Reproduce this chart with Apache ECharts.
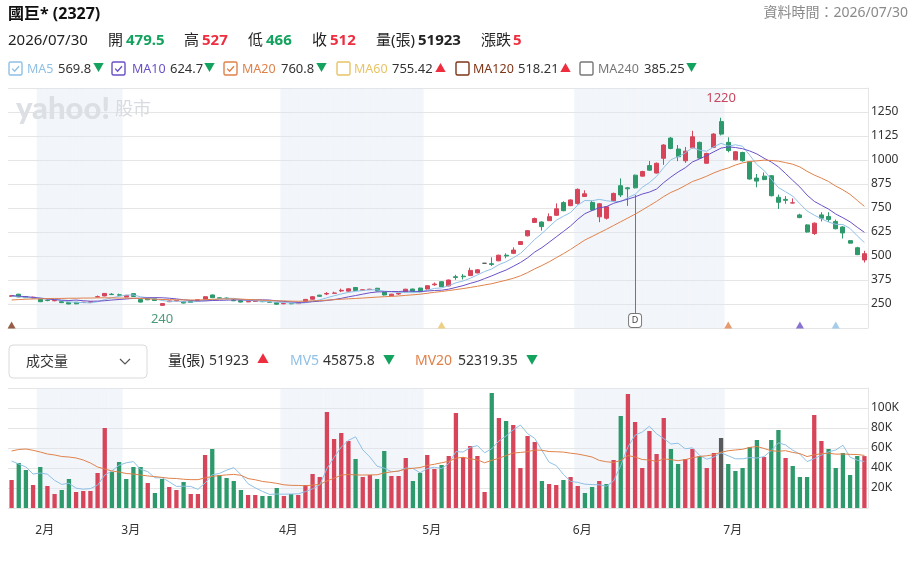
<!DOCTYPE html>
<html>
<head>
<meta charset="utf-8">
<title>國巨* (2327)</title>
<script src="https://cdn.jsdelivr.net/npm/echarts@6/dist/echarts.min.js"></script>
<style>
html, body { margin: 0; padding: 0; background: #fff; }
#chart { width: 918px; height: 570px; }
</style>
</head>
<body>
<div id="chart"></div>
<script>
// trading days (MM/DD, 2026)
var dates = [
	'01/27','01/28','01/29','01/30',
	'02/02','02/03','02/04','02/05','02/06','02/09','02/10','02/11','02/23','02/24','02/25','02/26',
	'03/02','03/03','03/04','03/05','03/06','03/09','03/10','03/11','03/12','03/13','03/16','03/17','03/18','03/19','03/20','03/23','03/24','03/25','03/26','03/27','03/30','03/31',
	'04/01','04/02','04/07','04/08','04/09','04/10','04/13','04/14','04/15','04/16','04/17','04/20','04/21','04/22','04/23','04/24','04/27','04/28','04/29','04/30',
	'05/01','05/04','05/05','05/06','05/07','05/08','05/11','05/12','05/13','05/14','05/15','05/18','05/19','05/20','05/21','05/22','05/25','05/26','05/27','05/28','05/29',
	'06/01','06/02','06/03','06/04','06/05','06/08','06/09','06/10','06/11','06/12','06/15','06/16','06/17','06/18','06/22','06/23','06/24','06/25','06/26','06/29','06/30',
	'07/01','07/02','07/03','07/06','07/07','07/08','07/13','07/14','07/15','07/16','07/17','07/20','07/21','07/22','07/23','07/24','07/27','07/28','07/29','07/30'
];
var opens = [
	290, 301, 289, 281, 274, 270, 267, 262, 257, 259,
	258, 259, 287, 292, 301, 298, 286, 304, 273, 279,
	277, 243, 262, 266, 262, 264, 268, 275, 297, 282,
	281, 270, 267, 261, 263, 264, 261, 257, 251, 253,
	252, 264, 275, 296, 302, 306, 318, 317, 336, 322,
	325, 332, 312, 293, 302, 313, 328, 333, 328, 350,
	366, 344, 392, 395, 398, 412, 462, 460, 475, 504,
	514, 560, 605, 675, 677, 684, 712, 778, 762, 774,
	810, 779, 704, 697, 788, 866, 855, 921, 916, 971,
	932, 1009, 1114, 1057, 996, 1064, 1092, 983, 1066, 1200,
	1092, 1001, 1039, 991, 906, 916, 918, 806, 795, 776,
	714, 662, 617, 714, 706, 680, 651, 580, 543, 479.5
];
var closes = [
	293, 287, 283, 285, 262, 268, 269, 257, 250, 251,
	259, 261, 288, 305, 299, 296, 295, 289, 260, 272,
	268, 252, 266, 268, 255, 258, 272, 288, 283, 280,
	278, 267, 260, 263, 265, 262, 259, 249, 253, 251,
	255, 274, 288, 290, 305, 307, 321, 329, 320, 324,
	327, 318, 297, 301, 305, 327, 316, 314, 345, 354,
	340, 375, 388, 392, 425, 428, 462, 456, 504, 500,
	531, 575, 632, 695, 653, 705, 746, 736, 792, 847,
	824, 740, 772, 756, 826, 818, 850, 855, 940, 947,
	983, 1078, 1060, 1017, 1046, 1121, 1010, 1034, 1135, 1135,
	1049, 1043, 996, 901, 890, 898, 814, 780, 790, 777,
	700, 625, 671, 697, 690, 642, 620, 567, 507, 512
];
var lows = [
	287, 285, 281, 279, 260, 264, 264, 255, 249, 249,
	255, 257, 284, 290, 297, 294, 284, 287, 258, 270,
	266, 240, 260, 264, 253, 256, 266, 274, 281, 278,
	274, 265, 258, 260, 262, 260, 257, 247, 249, 249,
	250, 262, 273, 288, 296, 304, 312, 315, 318, 320,
	323, 316, 295, 291, 298, 311, 314, 312, 326, 345,
	338, 342, 376, 378, 396, 410, 460, 448, 473, 488,
	510, 558, 602, 672, 632, 682, 710, 733, 760, 768,
	808, 734, 676, 690, 785, 807, 761, 852, 914, 944,
	930, 975, 1056, 994, 985, 1060, 1006, 980, 1062, 1128,
	1040, 998, 992, 898, 858, 895, 810, 745, 772, 774,
	697, 622, 610, 680, 678, 639, 591, 565, 505, 466
];
var highs = [
	297, 303, 291, 288, 276, 275, 271, 264, 259, 261,
	261, 263, 294, 307, 307, 304, 297, 306, 275, 281,
	279, 255, 268, 270, 264, 266, 274, 290, 299, 284,
	285, 276, 268, 265, 267, 266, 263, 259, 255, 255,
	257, 276, 290, 298, 312, 314, 330, 331, 338, 326,
	329, 334, 314, 303, 311, 329, 330, 335, 347, 362,
	368, 377, 402, 406, 439, 431, 464, 493, 507, 514,
	545, 578, 634, 700, 680, 722, 774, 785, 795, 852,
	842, 788, 776, 760, 830, 904, 860, 924, 944, 995,
	987, 1082, 1120, 1078, 1068, 1152, 1096, 1038, 1140, 1220,
	1118, 1047, 1043, 994, 927, 935, 921, 820, 812, 800,
	720, 665, 675, 728, 728, 690, 655, 583, 548, 527
];
// 成交量 (張)
var volumes = [
	28000, 45000, 38000, 23000, 41000, 22000, 14000, 18000, 29000, 16000,
	17000, 17000, 35000, 80000, 36000, 46000, 29000, 41000, 41000, 25000,
	15000, 29000, 21000, 18000, 26000, 14000, 14000, 53000, 59000, 33000,
	30000, 27000, 18000, 13000, 13000, 12000, 12000, 20000, 12000, 14000,
	13000, 23000, 34000, 31000, 96000, 69000, 75000, 67000, 49000, 31000,
	33000, 29000, 57000, 32000, 32000, 50000, 27000, 35000, 53000, 39000,
	43000, 52000, 95000, 51000, 62000, 52000, 16000, 115000, 90000, 87000,
	83000, 40000, 72000, 66000, 27000, 24000, 23000, 28000, 31000, 22000,
	15000, 21000, 27000, 24000, 48000, 92000, 114000, 86000, 40000, 77000,
	54000, 90000, 59000, 44000, 49000, 59000, 52000, 40000, 55000, 70000,
	44000, 37000, 40000, 61000, 68000, 51000, 68000, 78000, 50000, 42000,
	31000, 31000, 93000, 67000, 59000, 40000, 55000, 33000, 52000, 51923
];
// averages before a full window exists
var ma5Head = [290, 288, 284, 281];
var ma10Head = [294, 291, 288, 285, 280, 276, 273, 270, 268];
var ma20Head = [271, 273, 275, 276, 277, 278, 279, 279, 280, 280, 281, 281, 282, 282, 282, 281, 281, 280, 279];
var mv5Head = [47000, 44000, 41000, 34000];
var mv20Head = [57000, 58500, 59000, 57700, 56000, 54000, 53000, 51500, 51000, 50000, 48000, 45000, 41000, 39000, 37000, 36000, 34500, 34000, 33000];

var priceTicks = [125, 1375, 125];     // min, max, interval
var volTicks = [0, 120000, 20000];
var dividendIdx = 87;                  // "D" mark
var maMarkIdx = [0, 60, 100, 110, 115];
var maMarkKey = ['MA120', 'MA60', 'MA20', 'MA10', 'MA5'];

var FONT = '"Noto Sans", "Noto Sans CJK TC", sans-serif';
var UP = '#d6455a', DOWN = '#2e9a6c', FLAT = '#5a5a5a';
var TXT_UP = '#ee2d3f', TXT_DOWN = '#14a35f';
var MA_COLOR = {
	MA5: '#8fc0e6', MA10: '#6a50c8', MA20: '#e0814a',
	MA60: '#e8c466', MA120: '#7e3518', MA240: '#777777'
};

function movingAvg(src, n, head){
	return src.map(function(v, i){
		if(i < n - 1) return head[i];
		var s = 0;
		for(var k = i - n + 1; k <= i; k++) s += src[k];
		return +(s / n).toFixed(2);
	});
}

var ma5 = movingAvg(closes, 5, ma5Head);
var ma10 = movingAvg(closes, 10, ma10Head);
var ma20 = movingAvg(closes, 20, ma20Head);
var mv5 = movingAvg(volumes, 5, mv5Head);
var mv20 = movingAvg(volumes, 20, mv20Head);

var candles = dates.map(function(d, i){
	return [opens[i], closes[i], lows[i], highs[i]];
});
var volBars = volumes.map(function(v, i){
	var prev = i > 0 ? closes[i - 1] : opens[i];
	var c = closes[i] > prev ? UP : (closes[i] < prev ? DOWN : FLAT);
	return { value: v, itemStyle: { color: c } };
});
function monthOf(d){ return parseInt(d.slice(0, 2), 10); }
// even months are shaded
var bands = dates.map(function(d){ return monthOf(d) % 2 === 0 ? 1 : '-'; });
var maMarks = maMarkIdx.map(function(idx, k){
	return { value: [idx, 141], itemStyle: { color: MA_COLOR[maMarkKey[k]] } };
});

/* ---------- header texts ---------- */
function txt(x, y, s, color, size, weight, align){
	return {
		type: 'text', x: x, y: y, z: 10,
		style: {
			text: s, fill: color, fontSize: size, fontWeight: weight || 'normal',
			fontFamily: FONT, verticalAlign: 'middle', align: align || 'left'
		}
	};
}
function checkBox(x, y, color, checked){
	var els = [{
		type: 'rect', z: 10,
		shape: { x: x, y: y, width: 13, height: 13, r: 1.5 },
		style: { fill: '#fff', stroke: color, lineWidth: 1.4 }
	}];
	if(checked){
		els.push({
			type: 'polyline', z: 10,
			shape: { points: [[x + 3.2, y + 6.6], [x + 5.6, y + 9.2], [x + 10, y + 4.2]] },
			style: { fill: null, stroke: color, lineWidth: 1.4 }
		});
	}
	return els;
}

var header = [
	txt(8, 14, '國巨* (2327)', '#111', 16, 'bold'),
	txt(908, 13, '資料時間：2026/07/30', '#8a8a8a', 14, 'normal', 'right'),
	txt(8, 41, '2026/07/30', '#222', 15),
	txt(108, 41, '開', '#222', 15), txt(126, 41, '479.5', TXT_DOWN, 15, 'bold'),
	txt(184, 41, '高', '#222', 15), txt(202, 41, '527', TXT_UP, 15, 'bold'),
	txt(248, 41, '低', '#222', 15), txt(266, 41, '466', TXT_DOWN, 15, 'bold'),
	txt(312, 41, '收', '#222', 15), txt(330, 41, '512', TXT_UP, 15, 'bold'),
	txt(376, 41, '量(張)', '#222', 15), txt(418, 41, '51923', '#222', 15, 'bold'),
	txt(481, 41, '漲跌', '#222', 15), txt(513, 41, '5', TXT_UP, 15, 'bold')
];

var maLegend = [
	{ key: 'MA5', val: '569.8', up: false, on: true, x: [9, 27, 58, 93] },
	{ key: 'MA10', val: '624.7', up: false, on: true, x: [112, 132, 170, 204] },
	{ key: 'MA20', val: '760.8', up: false, on: true, x: [224, 242, 281, 316] },
	{ key: 'MA60', val: '755.42', up: true, on: false, x: [337, 354, 392, 435] },
	{ key: 'MA120', val: '518.21', up: true, on: false, x: [456, 473, 518, 560] },
	{ key: 'MA240', val: '385.25', up: false, on: false, x: [580, 598, 644, 686] }
];
maLegend.forEach(function(m){
	header = header.concat(checkBox(m.x[0], 62, MA_COLOR[m.key], m.on));
	header.push(txt(m.x[1], 69, m.key, MA_COLOR[m.key], 12.5));
	header.push(txt(m.x[2], 69, m.val, '#333', 13));
	header.push(txt(m.x[3], 69, m.up ? '▲' : '▼', m.up ? TXT_UP : TXT_DOWN, 11));
});

// volume panel header
header.push({
	type: 'rect', z: 10,
	shape: { x: 9, y: 345, width: 138, height: 33, r: 4 },
	style: { fill: '#fff', stroke: '#dadada', lineWidth: 1 }
});
header.push(txt(26, 362, '成交量', '#333', 14));
header.push({
	type: 'polyline', z: 10,
	shape: { points: [[120, 359], [125, 364], [130, 359]] },
	style: { fill: null, stroke: '#555', lineWidth: 1.2 }
});
header.push(txt(168, 361, '量(張)', '#222', 14), txt(209, 361, '51923', '#333', 14), txt(257, 361, '▲', TXT_UP, 12));
header.push(txt(290, 361, 'MV5', MA_COLOR.MA5, 14), txt(323, 361, '45875.8', '#333', 14), txt(383, 361, '▼', TXT_DOWN, 12));
header.push(txt(415, 361, 'MV20', MA_COLOR.MA20, 14), txt(458, 361, '52319.35', '#333', 14), txt(526, 361, '▼', TXT_DOWN, 12));

// watermark
header.push({
	type: 'text', x: 16, y: 109, z: 3,
	style: { text: 'yahoo!', fill: '#dcdfe3', fontSize: 31, fontWeight: 900, fontFamily: 'Lato, "Open Sans", sans-serif', verticalAlign: 'middle' }
});
header.push({
	type: 'text', x: 115, y: 110, z: 3,
	style: { text: '股市', fill: '#d8dbe0', fontSize: 18, fontFamily: FONT, verticalAlign: 'middle' }
});

/* ---------- chart ---------- */
var chart = echarts.init(document.getElementById('chart'));

var gridLine = { show: true, lineStyle: { color: '#e5e5e5', width: 1 } };
var axisLabelStyle = { color: '#333', fontSize: 12, fontFamily: FONT };

var option = {
	animation: false,
	textStyle: { fontFamily: FONT },
	graphic: { elements: header },
	grid: [
		{ left: 8, right: 50, top: 88, height: 240 },
		{ left: 8, right: 50, top: 388, height: 120 }
	],
	xAxis: [
		{ type: 'category', gridIndex: 0, data: dates, boundaryGap: true,
		  axisLine: { show: false }, axisTick: { show: false }, axisLabel: { show: false }, splitLine: { show: false } },
		{ type: 'category', gridIndex: 1, data: dates, boundaryGap: true,
		  axisLine: { show: false }, axisTick: { show: false }, splitLine: { show: false },
		  axisLabel: {
		  	color: '#333', fontSize: 12, margin: 17,
		  	interval: function(idx, val){
		  		return idx > 0 && monthOf(val) !== monthOf(dates[idx - 1]);
		  	},
		  	formatter: function(val){ return '{m|' + monthOf(val) + '月}'; },
		  	rich: { m: { padding: [0, 0, 0, 9], fontSize: 12, color: '#333' } }
		  } },
		{ type: 'category', gridIndex: 0, data: dates, show: false },
		{ type: 'category', gridIndex: 1, data: dates, show: false }
	],
	yAxis: [
		{ type: 'value', gridIndex: 0, position: 'right', scale: false,
		  min: priceTicks[0], max: priceTicks[1], interval: priceTicks[2],
		  axisLine: { show: true, lineStyle: { color: '#e5e5e5' } }, axisTick: { show: false },
		  splitLine: gridLine,
		  axisLabel: Object.assign({ margin: 3, showMinLabel: false, showMaxLabel: false,
		  	formatter: function(v){ return String(v); } }, axisLabelStyle) },
		{ type: 'value', gridIndex: 1, position: 'right',
		  min: volTicks[0], max: volTicks[1], interval: volTicks[2],
		  axisLine: { show: true, lineStyle: { color: '#e5e5e5' } }, axisTick: { show: false },
		  splitLine: gridLine,
		  axisLabel: Object.assign({ margin: 3, showMinLabel: false, showMaxLabel: false,
		  	formatter: function(v){ return v / 1000 + 'K'; } }, axisLabelStyle) },
		{ type: 'value', gridIndex: 0, min: 0, max: 1, show: false, splitLine: { show: false } },
		{ type: 'value', gridIndex: 1, min: 0, max: 1, show: false, splitLine: { show: false } }
	],
	series: [
		{
			name: 'band1', type: 'bar', xAxisIndex: 2, yAxisIndex: 2, data: bands,
			barWidth: '100%', barCategoryGap: 0, silent: true, z: 1,
			itemStyle: { color: 'rgba(222,232,243,0.4)' }
		},
		{
			name: 'band2', type: 'bar', xAxisIndex: 3, yAxisIndex: 3, data: bands,
			barWidth: '100%', barCategoryGap: 0, silent: true, z: 1,
			itemStyle: { color: 'rgba(222,232,243,0.4)' }
		},
		{
			name: 'K', type: 'candlestick', xAxisIndex: 0, yAxisIndex: 0, data: candles,
			barWidth: '62%', z: 5,
			itemStyle: {
				color: UP, color0: DOWN, borderColor: UP, borderColor0: DOWN,
				borderColorDoji: FLAT, borderWidth: 1
			},
			markPoint: {
				symbol: 'circle', symbolSize: 1, silent: true,
				itemStyle: { color: 'rgba(0,0,0,0)' },
				data: [
					{ type: 'max', valueDim: 'highest',
					  label: { show: true, position: 'top', distance: 12, color: '#c8465f', fontSize: 13 } },
					{ type: 'min', valueDim: 'lowest',
					  label: { show: true, position: 'bottom', distance: 6, color: '#4c9a7a', fontSize: 13 } },
					{ coord: [dividendIdx, 164], symbol: 'roundRect', symbolSize: [13, 14],
					  itemStyle: { color: '#fff', borderColor: '#777', borderWidth: 1 },
					  label: { show: true, position: 'inside', formatter: 'D', fontSize: 9, color: '#444' } }
				]
			},
			markLine: {
				silent: true, symbol: ['none', 'none'],
				label: { show: false },
				lineStyle: { color: '#777', width: 1, type: 'solid' },
				data: [[{ coord: [dividendIdx, 818] }, { coord: [dividendIdx, 203] }]]
			}
		},
		{ name: 'MA5', type: 'line', xAxisIndex: 0, yAxisIndex: 0, data: ma5, showSymbol: false, z: 6,
		  lineStyle: { width: 1, color: MA_COLOR.MA5 } },
		{ name: 'MA10', type: 'line', xAxisIndex: 0, yAxisIndex: 0, data: ma10, showSymbol: false, z: 6,
		  lineStyle: { width: 1, color: MA_COLOR.MA10 } },
		{ name: 'MA20', type: 'line', xAxisIndex: 0, yAxisIndex: 0, data: ma20, showSymbol: false, z: 6,
		  lineStyle: { width: 1, color: MA_COLOR.MA20 } },
		{ name: 'maMarks', type: 'scatter', xAxisIndex: 0, yAxisIndex: 0, data: maMarks,
		  symbol: 'triangle', symbolSize: [8, 7], silent: true, z: 6 },
		{ name: '成交量', type: 'bar', xAxisIndex: 1, yAxisIndex: 1, data: volBars, barWidth: '60%', z: 5 },
		{ name: 'MV5', type: 'line', xAxisIndex: 1, yAxisIndex: 1, data: mv5, showSymbol: false, z: 6,
		  lineStyle: { width: 1, color: MA_COLOR.MA5 } },
		{ name: 'MV20', type: 'line', xAxisIndex: 1, yAxisIndex: 1, data: mv20, showSymbol: false, z: 6,
		  lineStyle: { width: 1, color: MA_COLOR.MA20 } }
	]
};
chart.setOption(option);
</script>
</body>
</html>
